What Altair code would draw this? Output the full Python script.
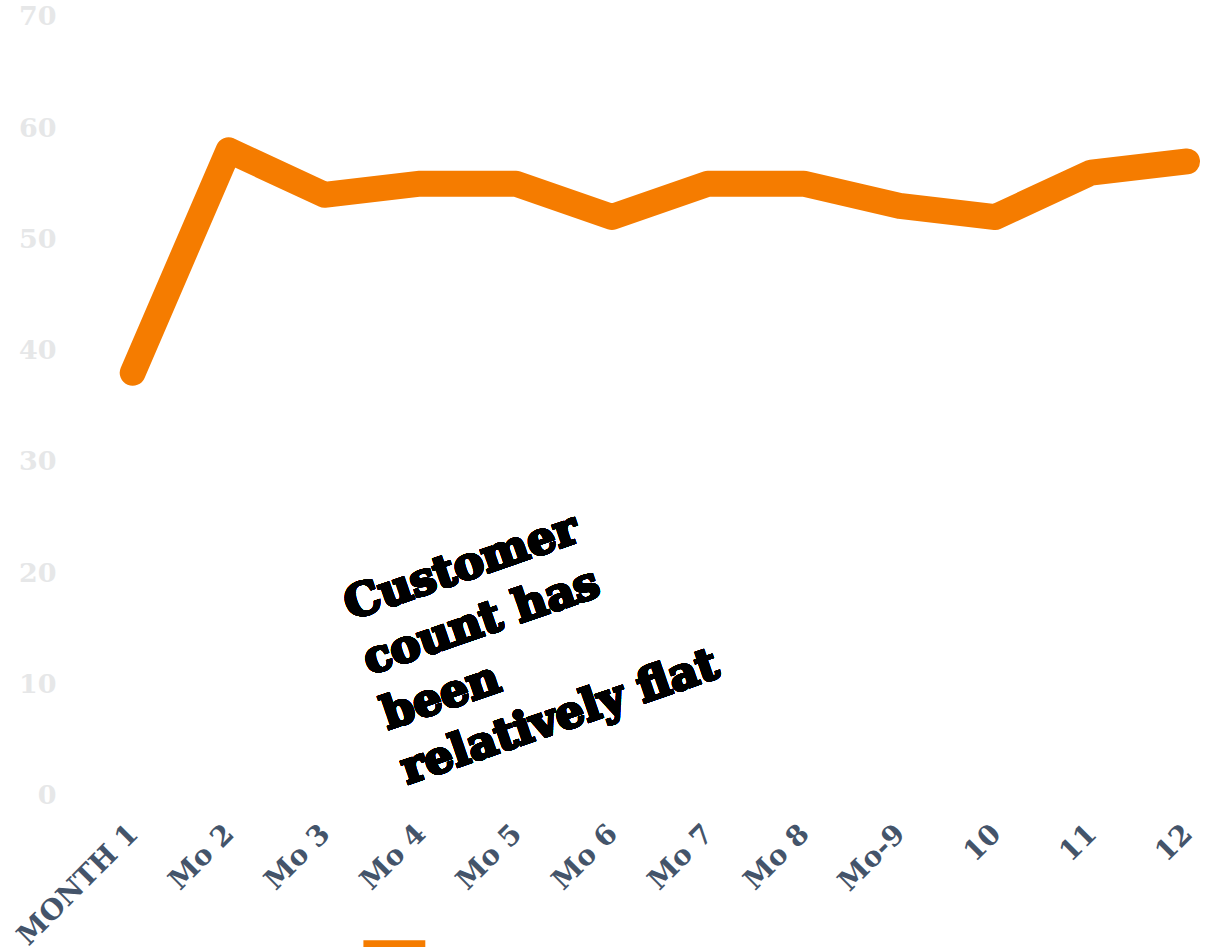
import altair as alt
import pandas as pd

months = ["MONTH 1", "Mo 2", "Mo 3", "Mo 4", "Mo 5", "Mo 6", "Mo 7", "Mo 8", "Mo-9", "10", "11", "12"]
customers = [38, 58, 54, 55, 55, 52, 55, 55, 53, 52, 56, 57]
series_name = ["Customers"]
y_ticks = [0, 10, 20, 30, 40, 50, 60, 70]
note_lines = ["Customer", "count has", "been", "relatively flat"]
note_month = "Mo 3"
note_value = 16

FONT = "DejaVu Serif"
ORANGE = "#F57C00"

df = pd.DataFrame({"month": months, "customers": customers, "series": series_name * len(months)})

line = alt.Chart(df).mark_line(strokeWidth=26, strokeCap="round", strokeJoin="round").encode(
    x=alt.X(
        "month:N",
        sort=months,
        scale=alt.Scale(type="point", padding=0.536, align=0.65),
        axis=alt.Axis(
            title=None,
            labelAngle=315,
            labelFont=FONT,
            labelFontWeight="bold",
            labelFontSize=28,
            labelColor="#44546A",
            labelPadding=24,
            labelOffset=-9,
            labelOverlap=False,
            domain=False,
            ticks=False,
            grid=False,
        ),
    ),
    y=alt.Y(
        "customers:Q",
        scale=alt.Scale(domain=[0, 70]),
        axis=alt.Axis(
            title=None,
            values=y_ticks,
            labelFont=FONT,
            labelFontWeight="bold",
            labelFontSize=27,
            labelColor="#E6E7E8",
            labelPadding=10,
            domain=False,
            ticks=False,
            grid=False,
        ),
    ),
    color=alt.Color(
        "series:N",
        scale=alt.Scale(range=[ORANGE]),
        legend=alt.Legend(
            title=None,
            orient="none",
            legendX=288,
            legendY=894,
            symbolType="stroke",
            symbolSize=3844,
            symbolStrokeWidth=20,
            symbolStrokeColor=ORANGE,
            labelFontSize=14,
            labelFont=FONT,
            labelBaseline="top",
        ),
    ),
)

note = alt.Chart(df).mark_text(
    text=note_lines,
    font=FONT,
    fontWeight="bold",
    fontSize=45,
    lineHeight=58,
    angle=341,
    align="left",
    baseline="alphabetic",
    dx=24,
    dy=11,
    color="black",
    stroke="black",
    strokeWidth=2.2,
).encode(
    x=alt.datum(note_month),
    y=alt.datum(note_value),
)

chart = alt.layer(line, note).properties(
    width=1159,
    height=780,
    padding={"left": 12, "top": 2, "right": 0, "bottom": 0},
).configure_view(stroke=None)

chart.save("out.html", embed_options={"renderer": "svg", "actions": False})
